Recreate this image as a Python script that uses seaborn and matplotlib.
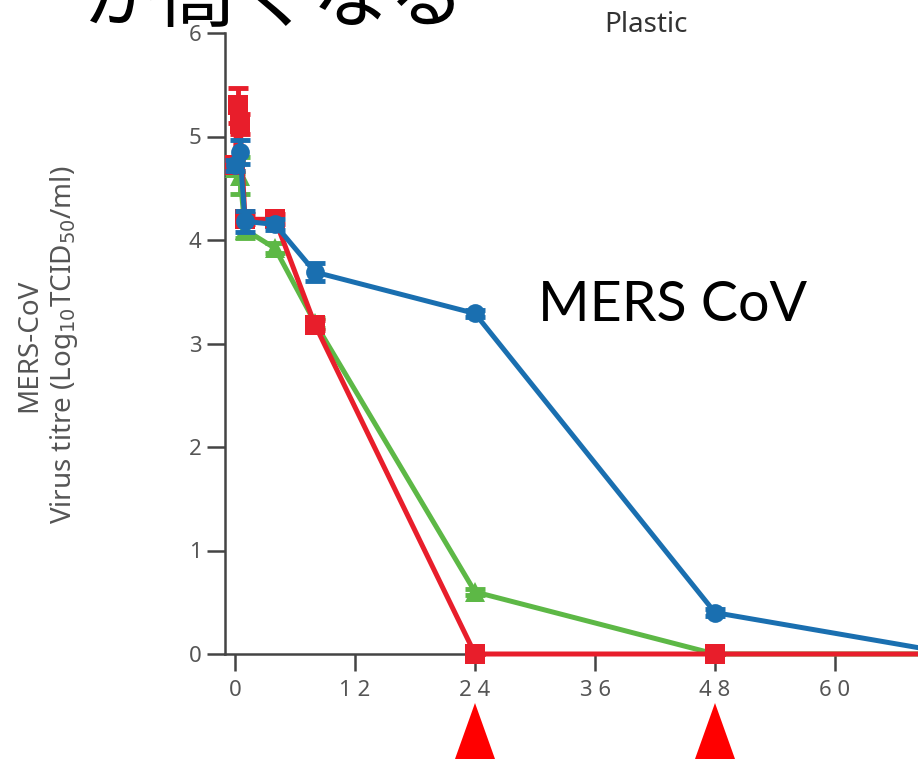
import matplotlib
matplotlib.use("Agg")
import matplotlib.pyplot as plt
import matplotlib.transforms as mtransforms
from matplotlib.patches import Polygon
import seaborn as sns
import pandas as pd

# ---- data ----
blue_hours = [0, 0.5, 1, 4, 8, 24, 48, 72]
blue_titre = [4.72, 4.85, 4.18, 4.15, 3.69, 3.29, 0.40, 0.0]
blue_err = [0.05, 0.12, 0.10, 0.05, 0.09, 0.03, 0.03, 0.0]

red_hours = [0, 0.25, 0.5, 1, 4, 8, 24, 48, 72]
red_titre = [4.72, 5.30, 5.12, 4.20, 4.20, 3.18, 0.0, 0.0, 0.0]
red_err = [0.05, 0.17, 0.10, 0.05, 0.05, 0.05, 0.0, 0.0, 0.0]

green_hours = [0, 0.5, 1, 4, 8, 24, 48, 72]
green_titre = [4.70, 4.62, 4.10, 3.92, 3.20, 0.60, 0.0, 0.0]
green_err = [0.05, 0.18, 0.08, 0.05, 0.05, 0.03, 0.0, 0.0]

x_ticks = [0, 12, 24, 36, 48, 60]
x_ticklabels = ["0", "1 2", "2 4", "3 6", "4 8", "6 0"]
y_ticks = [0, 1, 2, 3, 4, 5, 6]
arrow_hours = [24, 48]

BLUE = "#1a6fb0"
RED = "#e81e2b"
GREEN = "#5db846"
AX_GRAY = "#444444"
TXT_GRAY = "#555555"

sns.set_style("white")
plt.rcParams["font.family"] = ["Noto Sans", "DejaVu Sans"]

W, H = 918, 759
fig = plt.figure(figsize=(W / 100, H / 100), dpi=100)
ax = fig.add_axes([225 / W, (H - 654) / H, (W - 225) / W, (654 - 33) / H])

series = [
    (green_hours, green_titre, green_err, GREEN, "^", 14),
    (red_hours, red_titre, red_err, RED, "s", 14),
    (blue_hours, blue_titre, blue_err, BLUE, "o", 13.5),
]
for z, (hx, hy, he, col, mk, ms) in enumerate(series):
    df = pd.DataFrame({"hours": hx, "titre": hy})
    ax.errorbar(hx, hy, yerr=he, fmt="none", ecolor=col, elinewidth=3.5,
                capsize=7.5, capthick=3.5, zorder=3 + z * 2, clip_on=False)
    sns.lineplot(data=df, x="hours", y="titre", ax=ax, color=col, marker=mk,
                 markersize=ms, markeredgewidth=0, linewidth=3.6, sort=False,
                 zorder=4 + z * 2, clip_on=False, legend=False)

ax.set_xlim(-1, 68.3)
ax.set_ylim(0, 6)
ax.set_xticks(x_ticks)
ax.set_xticklabels(x_ticklabels)
ax.set_yticks(y_ticks)
ax.set_xlabel("")
ax.set_ylabel("")
for s in ["top", "right"]:
    ax.spines[s].set_visible(False)
for s in ["left", "bottom"]:
    ax.spines[s].set_color(AX_GRAY)
    ax.spines[s].set_linewidth(1.8)
ax.tick_params(axis="y", direction="out", length=13, width=1.8, color=AX_GRAY,
               labelsize=16, labelcolor=TXT_GRAY, pad=4, left=True)
ax.tick_params(axis="x", direction="out", length=12, width=1.8, color=AX_GRAY,
               labelsize=16, labelcolor=TXT_GRAY, pad=7, bottom=True)

# y label (two lines)
fig.text(48 / W, 1 - 345 / H, "MERS-CoV\nVirus titre (Log$_{10}$TCID$_{50}$/ml)",
         rotation=90, ha="center", va="center", ma="center",
         fontsize=20, color=TXT_GRAY, linespacing=1.2)

# title
fig.text(646 / W, 1 - 25 / H, "Plastic", ha="center", va="center",
         fontsize=20, color="#333333")

# big label
fig.text(673 / W, 1 - 305 / H, "MERS CoV", ha="center", va="center",
         fontsize=40, color="black", family=["Lato", "DejaVu Sans"])

# cut-off Japanese heading
fig.text(83 / W, 1 - 21 / H, "が高くなる", ha="left", va="baseline",
         fontsize=55, color="black", family=["Noto Sans CJK JP", "DejaVu Sans"])

# red arrow triangles below the axis
trans = mtransforms.blended_transform_factory(ax.transData, fig.transFigure)
for h in arrow_hours:
    tri = Polygon([(h - 2.0, 0.0), (h + 2.0, 0.0), (h, (H - 703) / H)],
                  closed=True, facecolor="#ff0000", edgecolor="none",
                  transform=trans, clip_on=False)
    fig.add_artist(tri)

fig.savefig("out.png", dpi=100)
